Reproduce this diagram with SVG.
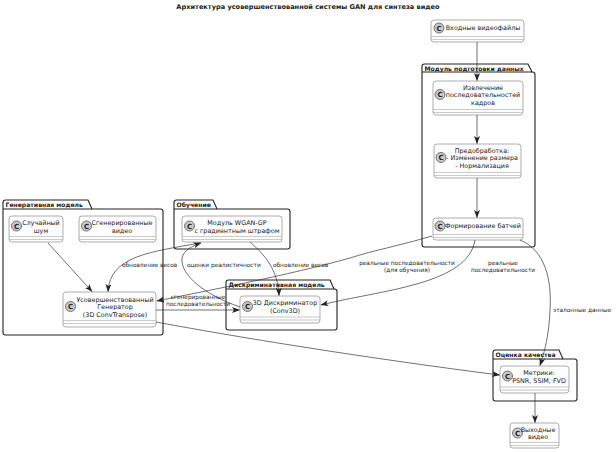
<svg xmlns="http://www.w3.org/2000/svg" width="616" height="452" viewBox="0 0 616 452">
<defs>
<marker id="ah" viewBox="0 0 8 6" refX="7.5" refY="3" markerWidth="8" markerHeight="6" markerUnits="userSpaceOnUse" orient="auto">
<path d="M0,0 L8,3 L0,6 L2,3 Z" fill="#222"/>
</marker>
</defs>
<style>
text{font-family:"DejaVu Sans","Liberation Sans",sans-serif;fill:#222}
.title{font-size:6.6px;font-weight:bold}
.pk{fill:#fff;stroke:#222;stroke-width:1.1}
.pl{font-size:6.1px;font-weight:bold}
.nd{fill:#fdfdfd;stroke:#999;stroke-width:0.8}
.sep{stroke:#aaa;stroke-width:0.6}
.ci{fill:#c9c9c9;stroke:#444;stroke-width:0.7}
.cl{font-size:7px;font-weight:bold;text-anchor:middle}
.nt{font-size:6.4px;text-anchor:middle}
.e{fill:none;stroke:#333;stroke-width:0.7;marker-end:url(#ah)}
.el{font-size:5.8px}
</style>
<rect width="616" height="452" fill="#fff"/>
<text class="title" x="308" y="8.5" text-anchor="middle">Архитектура усовершенствованной системы GAN для синтеза видео</text>

<g id="pkg-prep">
<path class="pk" d="M422,66.5 Q422,64 424.5,64 H528 L532,72 H532.5 Q535,72 535,74.5 V244.5 Q535,247 532.5,247 H424.5 Q422,247 422,244.5 Z"/>
<path d="M422,72 H532" stroke="#222" stroke-width="1.1"/>
<text class="pl" x="424.5" y="70.5">Модуль подготовки данных</text>
</g>
<g id="pkg-gen">
<path class="pk" d="M3,202.5 Q3,200 5.5,200 H88 L92,209 H160.5 Q163,209 163,211.5 V332.5 Q163,335 160.5,335 H5.5 Q3,335 3,332.5 Z"/>
<path d="M3,209 H92" stroke="#222" stroke-width="1.1"/>
<text class="pl" x="5.5" y="206.8">Генеративная модель</text>
</g>
<g id="pkg-train">
<path class="pk" d="M174,202.5 Q174,200 176.5,200 H213 L217,209 H287.5 Q290,209 290,211.5 V246.5 Q290,249 287.5,249 H176.5 Q174,249 174,246.5 Z"/>
<path d="M174,209 H217" stroke="#222" stroke-width="1.1"/>
<text class="pl" x="176.5" y="206.8">Обучение</text>
</g>
<g id="pkg-disc">
<path class="pk" d="M226,282.5 Q226,280 228.5,280 H330 L334,289 H334.5 Q337,289 337,291.5 V327.5 Q337,330 334.5,330 H228.5 Q226,330 226,327.5 Z"/>
<path d="M226,289 H334" stroke="#222" stroke-width="1.1"/>
<text class="pl" x="228.5" y="286.8">Дискриминативная модель</text>
</g>
<g id="pkg-eval">
<path class="pk" d="M493,352.5 Q493,350 495.5,350 H559 L563,359 H574.5 Q577,359 577,361.5 V398.5 Q577,401 574.5,401 H495.5 Q493,401 493,398.5 Z"/>
<path d="M493,359 H563" stroke="#222" stroke-width="1.1"/>
<text class="pl" x="495.5" y="356.8">Оценка качества</text>
</g>

<g id="n-input">
<rect class="nd" x="431" y="20" width="93" height="22" rx="3"/>
<line class="sep" x1="431" y1="36.5" x2="524" y2="36.5"/><line class="sep" x1="431" y1="39.5" x2="524" y2="39.5"/>
<circle class="ci" cx="439" cy="28" r="5"/><text class="cl" x="439" y="30.5">C</text>
<text class="nt" x="483" y="30.3">Входные видеофайлы</text>
</g>
<g id="n-extract">
<rect class="nd" x="433" y="81" width="90" height="34" rx="3"/>
<line class="sep" x1="433" y1="109.5" x2="523" y2="109.5"/><line class="sep" x1="433" y1="112.5" x2="523" y2="112.5"/>
<circle class="ci" cx="440" cy="94.5" r="5"/><text class="cl" x="440" y="97">C</text>
<text class="nt" x="483" y="89.5">Извлечение</text>
<text class="nt" x="483" y="97.2">последовательностей</text>
<text class="nt" x="483" y="104.9">кадров</text>
</g>
<g id="n-preproc">
<rect class="nd" x="434" y="144" width="87" height="34" rx="3"/>
<line class="sep" x1="434" y1="172.5" x2="521" y2="172.5"/><line class="sep" x1="434" y1="175.5" x2="521" y2="175.5"/>
<circle class="ci" cx="441" cy="157.5" r="5"/><text class="cl" x="441" y="160">C</text>
<text class="nt" x="482" y="152.5">Предобработка:</text>
<text class="nt" x="482" y="160.2">- Изменение размера</text>
<text class="nt" x="482" y="167.9">- Нормализация</text>
</g>
<g id="n-batch">
<rect class="nd" x="433" y="218" width="90" height="22" rx="3"/>
<line class="sep" x1="433" y1="234.5" x2="523" y2="234.5"/><line class="sep" x1="433" y1="237.5" x2="523" y2="237.5"/>
<circle class="ci" cx="440" cy="226" r="5"/><text class="cl" x="440" y="228.5">C</text>
<text class="nt" x="483" y="228.3">Формирование батчей</text>
</g>
<g id="n-noise">
<rect class="nd" x="9" y="216" width="54" height="26" rx="3"/>
<line class="sep" x1="9" y1="236.5" x2="63" y2="236.5"/><line class="sep" x1="9" y1="239.5" x2="63" y2="239.5"/>
<circle class="ci" cx="16.5" cy="226" r="5"/><text class="cl" x="16.5" y="228.5">C</text>
<text class="nt" x="41" y="225">Случайный</text>
<text class="nt" x="41" y="232.7">шум</text>
</g>
<g id="n-genvideo">
<rect class="nd" x="79" y="216" width="77" height="26" rx="3"/>
<line class="sep" x1="79" y1="236.5" x2="156" y2="236.5"/><line class="sep" x1="79" y1="239.5" x2="156" y2="239.5"/>
<circle class="ci" cx="86.5" cy="226" r="5"/><text class="cl" x="86.5" y="228.5">C</text>
<text class="nt" x="122" y="225">Сгенерированные</text>
<text class="nt" x="122" y="232.7">видео</text>
</g>
<g id="n-generator">
<rect class="nd" x="63" y="292" width="93" height="35" rx="3"/>
<line class="sep" x1="63" y1="320.5" x2="156" y2="320.5"/><line class="sep" x1="63" y1="323.5" x2="156" y2="323.5"/>
<circle class="ci" cx="70.5" cy="306.5" r="5"/><text class="cl" x="70.5" y="309">C</text>
<text class="nt" x="115" y="301.5">Усовершенствованный</text>
<text class="nt" x="115" y="309.2">Генератор</text>
<text class="nt" x="115" y="316.9">(3D ConvTranspose)</text>
</g>
<g id="n-wgan">
<rect class="nd" x="182" y="216" width="100" height="26" rx="3"/>
<line class="sep" x1="182" y1="236.5" x2="282" y2="236.5"/><line class="sep" x1="182" y1="239.5" x2="282" y2="239.5"/>
<circle class="ci" cx="189.5" cy="226" r="5"/><text class="cl" x="189.5" y="228.5">C</text>
<text class="nt" x="237" y="225">Модуль WGAN-GP</text>
<text class="nt" x="237" y="232.7">с градиентным штрафом</text>
</g>
<g id="n-disc">
<rect class="nd" x="240" y="296" width="80" height="27" rx="3"/>
<line class="sep" x1="240" y1="317" x2="320" y2="317"/><line class="sep" x1="240" y1="320" x2="320" y2="320"/>
<circle class="ci" cx="247.5" cy="306.5" r="5"/><text class="cl" x="247.5" y="309">C</text>
<text class="nt" x="285" y="305">3D Дискриминатор</text>
<text class="nt" x="285" y="312.7">(Conv3D)</text>
</g>
<g id="n-metrics">
<rect class="nd" x="500" y="366" width="69" height="27" rx="3"/>
<line class="sep" x1="500" y1="387" x2="569" y2="387"/><line class="sep" x1="500" y1="390" x2="569" y2="390"/>
<circle class="ci" cx="507.5" cy="376" r="5"/><text class="cl" x="507.5" y="378.5">C</text>
<text class="nt" x="539" y="375">Метрики:</text>
<text class="nt" x="539" y="382.7">PSNR, SSIM, FVD</text>
</g>
<g id="n-output">
<rect class="nd" x="510" y="423" width="49" height="25" rx="3"/>
<line class="sep" x1="510" y1="442.5" x2="559" y2="442.5"/><line class="sep" x1="510" y1="445.5" x2="559" y2="445.5"/>
<circle class="ci" cx="517.5" cy="433" r="5"/><text class="cl" x="517.5" y="435.5">C</text>
<text class="nt" x="538" y="431.5">Выходные</text>
<text class="nt" x="538" y="439.2">видео</text>
</g>

<g id="connectors">
<path class="e" d="M477,42 V80.5"/>
<path class="e" d="M477,115 V143.5"/>
<path class="e" d="M477,178 V217.5"/>
<path class="e" d="M475,240 C468,285 380,290 321,305"/>
<path class="e" d="M432,236 C398,246 375,250 350,258 C290,275 200,292 157,301"/>
<path class="e" d="M520,240 C545,250 552,280 550,310 C549,335 545,350 540,365.5"/>
<path class="e" d="M200,243 C150,252 110,256 108,291.5"/>
<path class="e" d="M240,307 C205,295 180,275 182,258 C184,250 192,246 201,243"/>
<path class="e" d="M250,242 C265,255 278,270 279,295.5"/>
<path class="e" d="M156,310 H239.5"/>
<path class="e" d="M156,322 C280,345 420,365 499.5,375"/>
<path class="e" d="M48,243 L92,291.5"/>
<path class="e" d="M535,393 V422.5"/>
<text class="el" x="503" y="264.5" text-anchor="middle">реальные</text>
<text class="el" x="503" y="271.5" text-anchor="middle">последовательности</text>
<text class="el" x="407" y="264.5" text-anchor="middle">реальные последовательности</text>
<text class="el" x="407" y="271.5" text-anchor="middle">(для обучения)</text>
<text class="el" x="553" y="312">эталонные данные</text>
<text class="el" x="122" y="267">обновление весов</text>
<text class="el" x="187" y="267">оценки реалистичности</text>
<text class="el" x="273" y="267">обновление весов</text>
<text class="el" x="198" y="299" text-anchor="middle">сгенерированные</text>
<text class="el" x="198" y="306" text-anchor="middle">последовательности</text>
</g>
</svg>
